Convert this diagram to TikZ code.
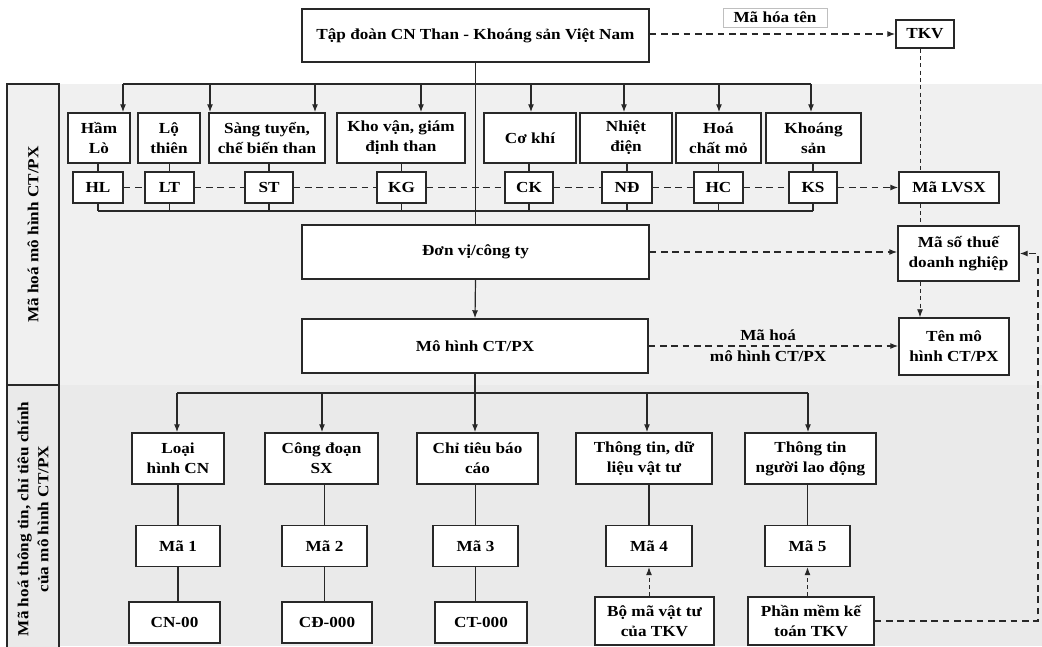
\documentclass[tikz,border=0pt]{standalone}
\usepackage{fontspec}
\setmainfont{Liberation Serif}[FakeStretch=1.12]
\usepackage{tikz}
\usetikzlibrary{arrows.meta, positioning, calc}
\definecolor{bandlight}{RGB}{240,240,240}
\definecolor{banddark}{RGB}{234,234,234}
\definecolor{linegray}{RGB}{40,40,40}

\begin{document}
\begin{tikzpicture}[
    x=0.75pt, y=-0.75pt,
    font=\fontsize{11.5}{15}\selectfont\bfseries,
    wh/.style 2 args={minimum width=#1*0.75pt, minimum height=#2*0.75pt},
    box/.style={draw=linegray, fill=white, line width=1.1pt, align=center, inner sep=1pt},
    tag/.style={box, wh={49}{31}},
    colbox/.style={draw=linegray, line width=1.1pt, rotate=90, align=center, inner sep=0pt},
    link/.style={draw=linegray, line width=0.9pt},
    arrow/.style={link, -{Latex[length=6pt, width=4.5pt]}},
    dlink/.style={link, dash pattern=on 5pt off 3.5pt},
    darrow/.style={arrow, dash pattern=on 5pt off 3.5pt},
    vlink/.style={link, line width=0.7pt, dash pattern=on 3pt off 2.5pt},
    varrow/.style={arrow, line width=0.7pt, dash pattern=on 3pt off 2.5pt}
]
    \useasboundingbox (0,0) rectangle (1042,646);

    % Bands
    \fill[bandlight] (7,84) rectangle (1042,385);
    \fill[banddark] (7,385) rectangle (1042,646);
    \node[colbox, fill=bandlight, wh={301}{52}] (lab1) at (33,234.5) {Mã hoá mô hình CT/PX};
    \node[colbox, fill=banddark, wh={268}{52}] (lab2) at (33,519) {Mã hoá thông tin, chỉ tiêu chính\\của mô hình CT/PX};

    % Group and name code
    \node[box, wh={347}{53}] (tapdoan) at (475.5,35.5) {Tập đoàn CN Than - Khoáng sản Việt Nam};
    \node[box, wh={58}{28}] (tkv) at (925,34) {TKV};
    \node[draw=black!25, fill=white, wh={104}{19}, inner sep=0pt] (mahoaten) at (775,17.5) {Mã hóa tên};

    % Sectors
    \node[box, wh={62}{50}] (hamlo) at (99,138) {Hầm\\Lò};
    \node[box, wh={62}{50}] (lothien) at (169,138) {Lộ\\thiên};
    \node[box, wh={116}{50}] (sangtuyen) at (267,138) {Sàng tuyển,\\chế biến than};
    \node[box, wh={128}{50}] (khovan) at (401,138) {Kho vận, giám\\định than};
    \node[box, wh={92}{50}] (cokhi) at (530,138) {Cơ khí};
    \node[box, wh={92}{50}] (nhietdien) at (626,138) {Nhiệt\\điện};
    \node[box, wh={85}{50}] (hoachat) at (718.5,138) {Hoá\\chất mỏ};
    \node[box, wh={95}{50}] (khoangsan) at (813.5,138) {Khoáng\\sản};

    % Sector codes
    \node[tag, wh={50}{31}] (hl) at (98,187.5) {HL};
    \node[tag] (lt) at (169.5,187.5) {LT};
    \node[tag, wh={48}{31}] (st) at (269,187.5) {ST};
    \node[tag] (kg) at (401.5,187.5) {KG};
    \node[tag, wh={48}{31}] (ck) at (529,187.5) {CK};
    \node[tag, wh={50}{31}] (nd) at (627,187.5) {NĐ};
    \node[tag] (hc) at (718.5,187.5) {HC};
    \node[tag, wh={48}{31}] (ks) at (813,187.5) {KS};
    \node[box, wh={100}{31}] (malvsx) at (949,187.5) {Mã LVSX};

    % Units and models
    \node[box, wh={347}{54}] (donvi) at (475.5,252) {Đơn vị/công ty};
    \node[box, wh={346}{54}] (mohinh) at (475,346) {Mô hình CT/PX};
    \node[box, wh={121}{55}] (masothue) at (958.5,253.5) {Mã số thuế\\doanh nghiệp};
    \node[box, wh={110}{57}] (tenmohinh) at (954,346.5) {Tên mô\\hình CT/PX};

    % Information groups
    \node[box, wh={92}{51}] (loaihinh) at (178,458.5) {Loại\\hình CN};
    \node[box, wh={113}{51}] (congdoan) at (321.5,458.5) {Công đoạn\\SX};
    \node[box, wh={121}{51}] (chitieu) at (477.5,458.5) {Chỉ tiêu báo\\cáo};
    \node[box, wh={136}{51}] (vattu) at (644,458.5) {Thông tin, dữ\\liệu vật tư};
    \node[box, wh={131}{51}] (laodong) at (810.5,458.5) {Thông tin\\người lao động};

    \node[box, wh={84}{41}] (ma1) at (178,546) {Mã 1};
    \node[box, wh={85}{41}] (ma2) at (324.5,546) {Mã 2};
    \node[box, wh={85}{41}] (ma3) at (475.5,546) {Mã 3};
    \node[box, wh={86}{41}] (ma4) at (649,546) {Mã 4};
    \node[box, wh={85}{41}] (ma5) at (807.5,546) {Mã 5};

    \node[box, wh={91}{41}] (cn00) at (174.5,622.5) {CN-00};
    \node[box, wh={90}{41}] (cd000) at (327,622.5) {CĐ-000};
    \node[box, wh={92}{41}] (ct000) at (481,622.5) {CT-000};
    \node[box, wh={119}{48}] (bomavt) at (654.5,621) {Bộ mã vật tư\\của TKV};
    \node[box, wh={126}{48}] (phanmem) at (811,621) {Phần mềm kế\\toán TKV};

    \coordinate (bus1) at (475,84);
    \coordinate (bus2) at (475,211);
    \coordinate (bus3) at (475,393);
    \coordinate (kv) at (920,0);
    \coordinate (rt) at (1038,0);

    % Connections, upper band
    \draw[link] (tapdoan.south) -- (donvi.north);
    \draw[link] (bus1 -| 123,0) -- (bus1 -| 811,0);
    \foreach \x/\n in {123/hamlo, 210/sangtuyen, 315/sangtuyen, 421/khovan, 531/cokhi, 624/nhietdien, 719/hoachat, 811/khoangsan}
        \draw[arrow] (bus1 -| \x,0) -- (\x,0 |- \n.north);
    \foreach \c/\n in {hl/hamlo, lt/lothien, st/sangtuyen, kg/khovan, ck/cokhi, nd/nhietdien, hc/hoachat, ks/khoangsan} {
        \draw[link] (\c.north) -- (\c.north |- \n.south);
        \draw[link] (\c.south) -- (\c.south |- bus2);
    }
    \draw[link] (bus2 -| hl.south) -- (bus2 -| ks.south);
    \draw[dlink] (hl) -- (lt) -- (st) -- (kg) -- (ck) -- (nd) -- (hc) -- (ks);
    \draw[darrow] (ks) -- (malvsx);
    \draw[darrow] (tapdoan.east |- tkv) -- (tkv.west);

    \draw[vlink] (tkv.south -| kv) -- (malvsx.north -| kv);
    \draw[vlink] (malvsx.south -| kv) -- (masothue.north -| kv);
    \draw[varrow] (masothue.south -| kv) -- (tenmohinh.north -| kv);

    \draw[arrow] (donvi.south) -- (mohinh.north);
    \draw[darrow] (donvi.east) -- (masothue.west |- donvi.east);
    \draw[darrow] (mohinh.east) -- node[align=center, xshift=-4pt, font=\fontsize{11.5}{16}\selectfont\bfseries] {Mã hoá\\mô hình CT/PX} (tenmohinh.west |- mohinh.east);
    \draw[darrow] (phanmem.east) -| (rt |- masothue.east) -- (masothue.east);

    % Connections, lower band
    \draw[link] (mohinh.south) -- (bus3);
    \draw[link] (bus3 -| 177,0) -- (bus3 -| 808,0);
    \foreach \x/\n in {177/loaihinh, 322/congdoan, 475/chitieu, 647/vattu, 808/laodong}
        \draw[arrow] (bus3 -| \x,0) -- (\x,0 |- \n.north);
    \foreach \a/\m/\b in {loaihinh/ma1/cn00, congdoan/ma2/cd000, chitieu/ma3/ct000} {
        \draw[link] (\m.north |- \a.south) -- (\m.north);
        \draw[link] (\m.south) -- (\m.south |- \b.north);
    }
    \draw[link] (ma4.north |- vattu.south) -- (ma4.north);
    \draw[link] (ma5.north |- laodong.south) -- (ma5.north);
    \draw[varrow] (ma4.south |- bomavt.north) -- (ma4.south);
    \draw[varrow] (ma5.south |- phanmem.north) -- (ma5.south);
\end{tikzpicture}
\end{document}
